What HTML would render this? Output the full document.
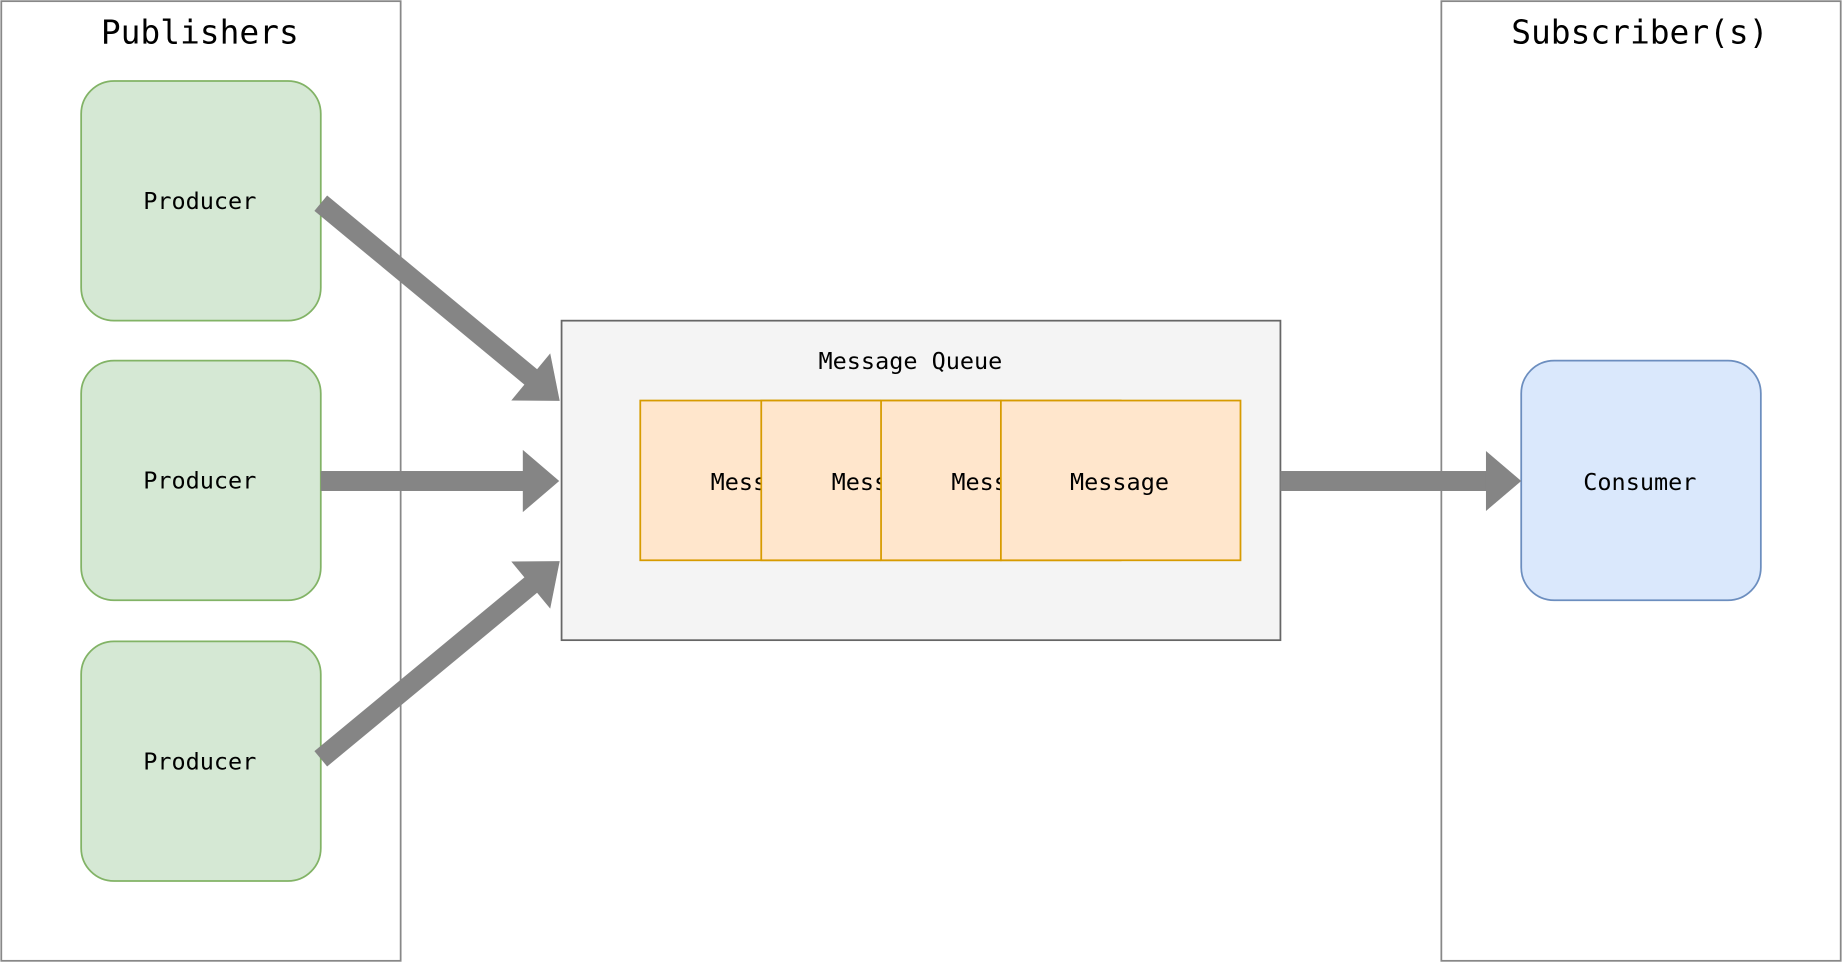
<!DOCTYPE html>
<html><head><style>html,body{margin:0;padding:0;background:#fff}svg{display:block}</style></head>
<body>
<svg width="1842" height="962" viewBox="0 0 1568 819" xmlns="http://www.w3.org/2000/svg" font-family="'DejaVu Sans Mono','Liberation Mono',monospace">
<rect x="1" y="1" width="340" height="817" fill="#fff" stroke="#888" stroke-width="1.5"/>
<rect x="1227" y="1" width="340" height="817" fill="#fff" stroke="#888" stroke-width="1.5"/>
<text x="170" y="37" font-size="28" text-anchor="middle">Publishers</text>
<text x="1396" y="37" font-size="28" text-anchor="middle">Subscriber(s)</text>
<g fill="#d5e8d4" stroke="#82b366" stroke-width="1.5">
<rect x="69" y="69" width="204" height="204" rx="28"/>
<rect x="69" y="307" width="204" height="204" rx="28"/>
<rect x="69" y="546" width="204" height="204" rx="28"/>
</g>
<g font-size="20" text-anchor="middle">
<text x="170" y="178">Producer</text>
<text x="170" y="416">Producer</text>
<text x="170" y="655">Producer</text>
</g>
<rect x="478" y="273" width="612" height="272" fill="#f4f4f4" stroke="#666" stroke-width="1.5"/>
<text x="775" y="314" font-size="20" text-anchor="middle">Message Queue</text>
<g stroke="#d79b00" stroke-width="1.5" fill="#ffe6cc" font-size="20" text-anchor="middle">
<rect x="545" y="341" width="204" height="136"/><text x="647" y="417" stroke="none" fill="#000">Message</text>
<rect x="648" y="341" width="204" height="136"/><text x="750" y="417" stroke="none" fill="#000">Message</text>
<rect x="750" y="341" width="204" height="136"/><text x="852" y="417" stroke="none" fill="#000">Message</text>
<rect x="852" y="341" width="204" height="136"/><text x="953" y="417" stroke="none" fill="#000">Message</text>
</g>
<rect x="1295" y="307" width="204" height="204" rx="28" fill="#dae8fc" stroke="#6c8ebf" stroke-width="1.5"/>
<text x="1396" y="417" font-size="20" text-anchor="middle">Consumer</text>
<g fill="#858585">
<rect x="273" y="401" width="173" height="17"/><polygon points="445,383 476,409.5 445,436"/>
<rect x="1090" y="401" width="176" height="17"/><polygon points="1265,384 1295,409.5 1265,435"/>
<g transform="translate(273,173) rotate(39.6)"><rect x="0" y="-8.5" width="234" height="17"/><polygon points="232,-26 264,0 232,26"/></g>
<g transform="translate(273,646) rotate(-39.6)"><rect x="0" y="-8.5" width="234" height="17"/><polygon points="232,-26 264,0 232,26"/></g>
</g>
</svg>
</body></html>
